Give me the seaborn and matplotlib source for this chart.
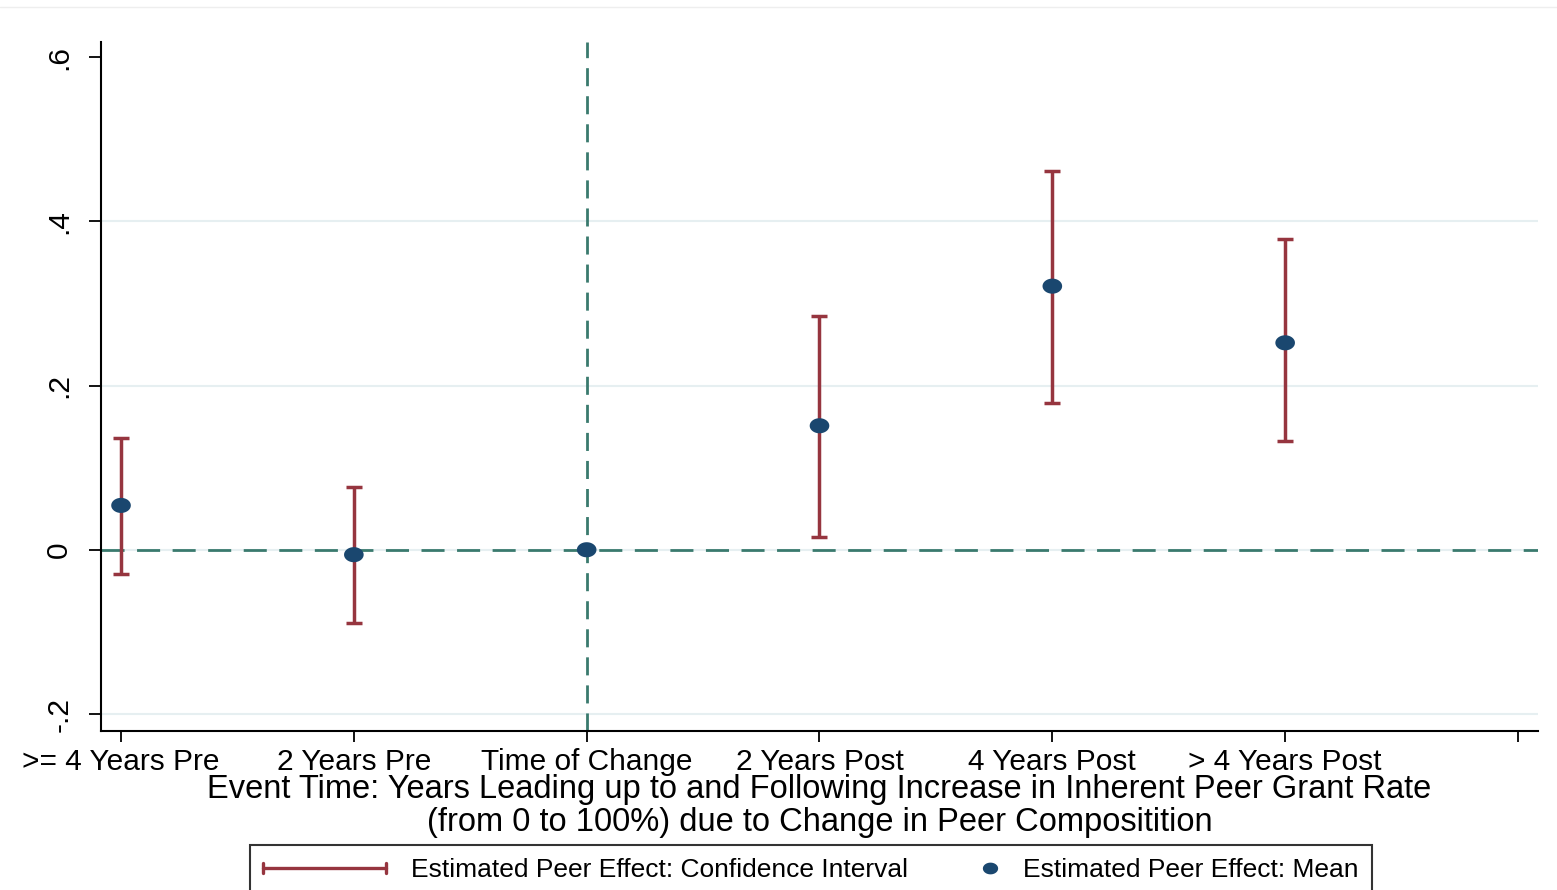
import numpy as np
import pandas as pd
import seaborn as sns
import matplotlib
matplotlib.use("Agg")
import matplotlib.pyplot as plt
from matplotlib.lines import Line2D
from matplotlib.legend_handler import HandlerLine2D, HandlerBase

# data
periods = [">= 4 Years Pre", "2 Years Pre", "Time of Change",
           "2 Years Post", "4 Years Post", "> 4 Years Post"]
mean_eff = [0.054, -0.006, 0.0, 0.151, 0.321, 0.252]
ci_low = [-0.029, -0.089, np.nan, 0.015, 0.179, 0.132]
ci_high = [0.136, 0.076, np.nan, 0.285, 0.461, 0.378]
y_ticks = [-0.2, 0, 0.2, 0.4, 0.6]
y_ticklabels = ["-.2", "0", ".2", ".4", ".6"]

df = pd.DataFrame({"t": np.arange(len(periods)), "period": periods,
                   "mean": mean_eff, "lo": ci_low, "hi": ci_high})

sns.set_style("white")
plt.rcParams["font.family"] = ["Liberation Sans", "DejaVu Sans"]
plt.rcParams["text.color"] = "black"
plt.rcParams["axes.labelcolor"] = "black"
plt.rcParams["xtick.color"] = "black"
plt.rcParams["ytick.color"] = "black"

ci_col = "#96353f"
dot_col = "#1a476f"
ref_col = "#3a7a6e"
grid_col = "#e6eff1"

# slightly wide dot, like the stretched stata export
tt = np.linspace(0, 2 * np.pi, 40)
ell = np.column_stack([1.3 * np.cos(tt), np.sin(tt)])

fig = plt.figure(figsize=(15.57, 8.9), dpi=100)
ax = fig.add_axes([101/1557, 1-731/890, (1538-101)/1557, (731-42)/890])

# grid lines (not at the top tick)
for g in [-0.2, 0, 0.2, 0.4]:
    ax.axhline(g, color=grid_col, lw=1.5, zorder=0)

ax.axhline(0, color=ref_col, lw=2, ls=(0, (8.3, 4.5)), zorder=1)
ax.axvline(2, color=ref_col, lw=2, ls=(0, (6.5, 3.6)), zorder=1)

ci = df.dropna()
ax.errorbar(ci["t"], (ci["lo"] + ci["hi"]) / 2, yerr=(ci["hi"] - ci["lo"]) / 2,
            fmt="none", ecolor=ci_col, elinewidth=2.5, capsize=5.5, capthick=2.5, zorder=2)
sns.scatterplot(data=df, x="t", y="mean", ax=ax, color=dot_col, s=200, marker=ell,
                edgecolor="none", zorder=3, legend=False)

ax.set_xlim(-0.086, 6.086)
ax.set_ylim(-0.2207, 0.6183)
ax.set_xticks(list(range(len(periods) + 1)))
ax.set_xticklabels(periods + [""], fontsize=21.5)
ax.set_yticks(y_ticks)
ax.set_yticklabels(y_ticklabels, fontsize=21.5, rotation=90, va="center")
ax.tick_params(axis="x", length=8, width=1.3, pad=4, direction="out", bottom=True)
ax.tick_params(axis="y", length=9, width=1.3, pad=11, direction="out", left=True)

for s in ["top", "right"]:
    ax.spines[s].set_visible(False)
for s in ["left", "bottom"]:
    ax.spines[s].set_color("black")
    ax.spines[s].set_linewidth(1.5)

ax.set_ylabel("")
ax.set_xlabel("Event Time: Years Leading up to and Following Increase in Inherent Peer Grant Rate\n"
              "(from 0 to 100%) due to Change in Peer Compositition",
              fontsize=23.5, linespacing=1.06, labelpad=-1)


class CIHandler(HandlerBase):
    def create_artists(self, legend, orig_handle, xdescent, ydescent,
                       width, height, fontsize, trans):
        y = height / 2 - ydescent
        x0, x1 = -xdescent, -xdescent + width
        h = 0.2 * fontsize
        arts = [Line2D([x0, x1], [y, y]), Line2D([x0, x0], [y - h, y + h]),
                Line2D([x1, x1], [y - h, y + h])]
        for a in arts:
            a.set_color(ci_col)
            a.set_linewidth(2.4)
            a.set_transform(trans)
        return arts


class DotHandler(HandlerLine2D):
    # put the dot at the right end of the handle box, next to its text
    def get_xdata(self, legend, xdescent, ydescent, width, height, fontsize):
        off = 0.3 * fontsize
        x1 = -xdescent + width
        return [x1 - 2 * off, x1], [x1 - off]


ci_handle = Line2D([], [], color=ci_col)
dot_handle = Line2D([], [], ls="none", marker=ell, markersize=11,
                    markerfacecolor=dot_col, markeredgecolor="none")
leg = fig.legend([ci_handle, dot_handle],
                 ["Estimated Peer Effect: Confidence Interval", "Estimated Peer Effect: Mean"],
                 handler_map={ci_handle: CIHandler(), dot_handle: DotHandler(numpoints=1)},
                 loc="upper left", bbox_to_anchor=(250/1557, 1-845/890), borderaxespad=0,
                 ncol=2, fontsize=19, handlelength=4.66, handletextpad=0.95,
                 columnspacing=-1.25, borderpad=0.5, fancybox=False, frameon=True)
leg.get_frame().set_edgecolor("black")
leg.get_frame().set_linewidth(1.5)

fig.add_artist(Line2D([0, 1], [1-7/890, 1-7/890], color="#eeeeee", lw=1))

fig.savefig("out.png", dpi=100)
